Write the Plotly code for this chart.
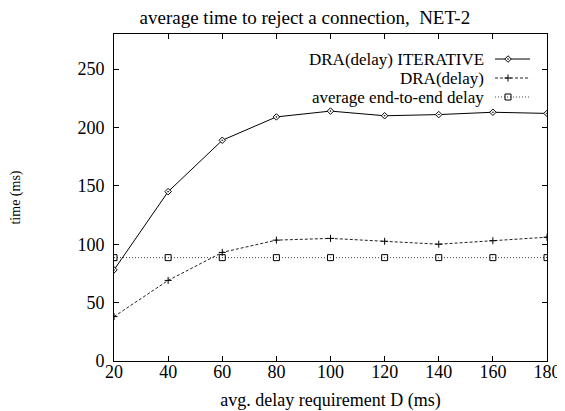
import plotly.graph_objects as go

x_vals = [20, 40, 60, 80, 100, 120, 140, 160, 180]
iterative = [78, 145, 189, 209, 214, 210, 211, 213, 212]
dra_delay = [38, 69, 93, 103.5, 105, 102.5, 100, 103, 106]
avg_e2e = [88.5, 88.5, 88.5, 88.5, 88.5, 88.5, 88.5, 88.5, 88.5]

series_names = ["DRA(delay) ITERATIVE", "DRA(delay)", "average end-to-end delay"]
x_ticks = [20, 40, 60, 80, 100, 120, 140, 160, 180]
y_ticks = [0, 50, 100, 150, 200, 250]

FONT = "Liberation Serif"
styles = [
    dict(line=dict(color="black", width=1, dash="solid"),
         marker=dict(symbol="diamond-dot", size=5, color="white",
                     line=dict(color="black", width=1))),
    dict(line=dict(color="#222", width=1, dash="3px,2px"),
         marker=dict(symbol="cross-thin", size=5,
                     line=dict(color="black", width=1))),
    dict(line=dict(color="#444", width=1, dash="1px,2px"),
         marker=dict(symbol="square-open", size=6, color="black",
                     line=dict(color="black", width=1))),
]

fig = go.Figure()
for name, ys, st in zip(series_names, [iterative, dra_delay, avg_e2e], styles):
    fig.add_trace(go.Scatter(x=x_vals, y=ys, mode="lines+markers", name=name,
                             line=st["line"], marker=st["marker"],
                             showlegend=False))

# legend drawn gnuplot-style: right-aligned text, sample to its right
row_y = [0.9235, 0.8654, 0.8073]
for name, ry, st in zip(series_names, row_y, styles):
    fig.add_trace(go.Scatter(x=[0.880, 0.910, 0.961], y=[ry, ry, ry],
                             xaxis="x2", yaxis="y2", mode="lines",
                             line=st["line"], showlegend=False, hoverinfo="skip"))
    fig.add_trace(go.Scatter(x=[0.910], y=[ry], xaxis="x2", yaxis="y2",
                             mode="markers", marker=st["marker"],
                             showlegend=False, hoverinfo="skip"))
    fig.add_annotation(x=0.852, y=ry, xref="paper", yref="paper",
                       text=name, showarrow=False, xanchor="right",
                       yanchor="middle", xshift=2, borderpad=0,
                       font=dict(family=FONT, size=17, color="black"))

axis_common = dict(showline=True, mirror="ticks", linecolor="black", linewidth=1,
                   ticks="inside", ticklen=5, tickcolor="black", showgrid=False,
                   zeroline=False, automargin=False,
                   tickfont=dict(family=FONT, size=18, color="black"))

# page body has an 8px margin: figure is sized/placed to compensate
fig.update_layout(
    template="none",
    width=557, height=403,
    margin=dict(l=106, r=18, t=26, b=50, autoexpand=False),
    paper_bgcolor="white", plot_bgcolor="white",
    title=dict(text="average time to reject a connection,  NET-2",
               x=0.533, xanchor="center", y=0.9775, yanchor="middle",
               font=dict(family=FONT, size=19, color="black")),
    xaxis=dict(range=[20, 180], tickvals=x_ticks, ticklabelstandoff=-6,
               title=dict(text="avg. delay requirement D (ms)", standoff=13,
                          font=dict(family=FONT, size=18, color="black")),
               **axis_common),
    yaxis=dict(range=[0, 280], tickvals=y_ticks, ticklabelstandoff=5,
               title=dict(text="time (ms)", standoff=55,
                          font=dict(family=FONT, size=14, color="black")),
               **axis_common),
    xaxis2=dict(overlaying="x", range=[0, 1], visible=False),
    yaxis2=dict(overlaying="y", range=[0, 1], visible=False),
    showlegend=False,
)

fig.write_html("out.html")
